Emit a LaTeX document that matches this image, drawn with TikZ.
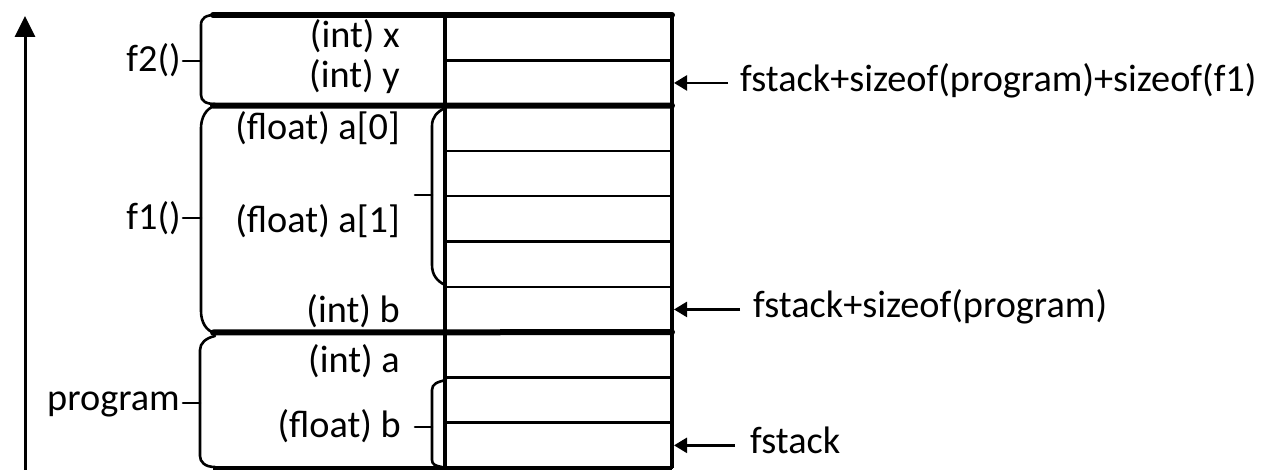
\documentclass[tikz,border=0pt]{standalone}
\usepackage{fontspec}
\setmainfont{Carlito}
\usetikzlibrary{arrows.meta}
\begin{document}
\begin{tikzpicture}[x=1pt,y=-1pt,
  cell/.style={draw, line width=2.5pt, minimum width=227pt, minimum height=45.3pt, inner sep=0pt, outer sep=0pt},
  heavy/.style={line width=6pt, line cap=round},
  lbl/.style={font=\fontsize{38.3}{40}\selectfont, inner sep=0pt, text height=19pt, text depth=0pt},
  rlbl/.style={font=\fontsize{38.3}{40}\selectfont, inner sep=0pt, text height=17pt, text depth=0pt, anchor=west},
  ptr/.style={line width=2.5pt, -{Triangle[length=13pt,width=15pt]}},
  brace/.style={line width=2.6pt, line cap=round}]
\useasboundingbox (0,0) rectangle (1274,470);
% stack cells
\foreach \k in {0,...,9}
  \node[cell] (r\k) at (558.5, {15+45.3*\k+22.65}) {};
\draw[line width=3.5pt] (r0.north west) -- (r9.south west);
\draw[line width=4pt] (r0.north east) -- (r9.south east);
% thick separators
\draw[heavy] (213,15) -- (r0.north east);
\draw[heavy] (213,105.6) -- (r1.south east);
\draw[heavy] (213,332.5) -- (r6.south east);
\draw[line width=4pt] (213,468) -- (r9.south east);
% outer braces
\draw[brace] (215,15) .. controls (206,15) and (201,18) .. (201,25) -- (201,95)
  .. controls (201,101) and (206,104) .. (215,104);
\draw[brace] (201,61) -- (183,61);
\draw[brace] (215,106) .. controls (206,108) and (201,118) .. (201,128) -- (201,311)
  .. controls (201,322) and (206,331) .. (215,333);
\draw[brace] (201,218) -- (183,218);
\draw[brace] (215,336) .. controls (206,338) and (200,343) .. (200,350) -- (200,456)
  .. controls (200,462) and (205,467) .. (215,467);
\draw[brace] (200,403) -- (183,403);
% inner braces
\draw[brace] (445,108) .. controls (437,112) and (432,117) .. (432,126) -- (432,265)
  .. controls (432,275) and (437,281) .. (445,285);
\draw[brace] (432,195) -- (415,195);
\draw[brace] (446,380) .. controls (437,382) and (432,384) .. (432,390) -- (432,460)
  .. controls (432,464) and (435,466) .. (442,467);
\draw[brace] (432,427) -- (415,427);
% left labels
\node[lbl, anchor=east] (ix) at (400,38.5) {(int) x};
\node[lbl, anchor=east] (iy) at (400,78.5) {(int) y};
\node[lbl, anchor=east] (fa0) at (400,130.5) {(float) a[0]};
\node[lbl, anchor=east] (fa1) at (400,223.5) {(float) a[1]};
\node[lbl, anchor=east] (ib) at (400,312.5) {(int) b};
\node[lbl, anchor=east] (ia) at (400,362.5) {(int) a};
\node[lbl, anchor=east] (fb) at (401,427.5) {(float) b};
\node[lbl, anchor=east] (f2) at (181,62.5) {f2()};
\node[lbl, anchor=east] (f1) at (181,220.5) {f1()};
\node[lbl, anchor=east] (prog) at (180,400.5) {program};
% right labels and pointers
\node[rlbl] (L1) at ([xshift=68pt]r1.east) {fstack+sizeof(program)+sizeof(f1)};
\node[rlbl] (L2) at ([xshift=81pt]r6.east) {fstack+sizeof(program)};
\node[rlbl] (L3) at ([xshift=78pt]r9.east) {fstack};
\draw[ptr] ([xshift=-12pt]L1.west) -- ([xshift=2pt]r1.east);
\draw[ptr] ([xshift=-13pt]L2.west) -- ([xshift=2pt]r6.east);
\draw[ptr] ([xshift=-15pt]L3.west) -- ([xshift=2pt]r9.east);
% growth arrow
\coordinate (ab) at (25,470);
\coordinate (at) at (25,16);
\draw[line width=3pt, -{Triangle[length=21pt,width=20pt]}] (ab) -- (at);
\end{tikzpicture}
\end{document}
